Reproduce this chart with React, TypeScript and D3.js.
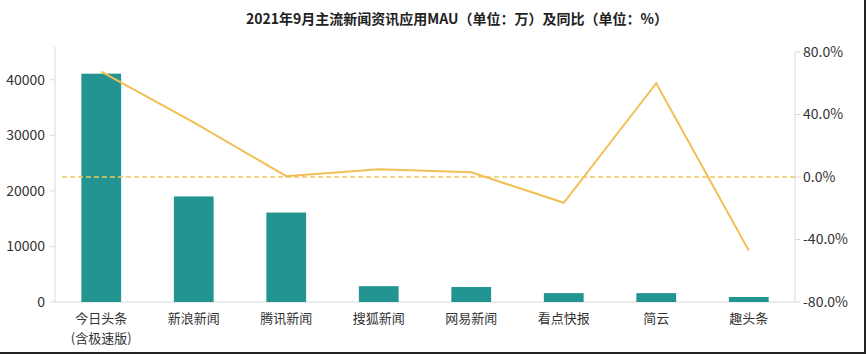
import React, { useEffect, useRef } from 'react';
import * as d3 from 'd3';

const categories = ['今日头条\n(含极速版)', '新浪新闻', '腾讯新闻', '搜狐新闻', '网易新闻', '看点快报', '简云', '趣头条'];
const mau = [41100, 19000, 16100, 2850, 2700, 1600, 1600, 900];
const yoy = [67.5, 35, 0.5, 5, 3, -16.5, 60, -47];
const leftTicks = [0, 10000, 20000, 30000, 40000];
const rightTicks = [-80, -40, 0, 40, 80];

const App = () => {
  const ref = useRef<SVGSVGElement>(null);

  useEffect(() => {
    const svg = d3.select(ref.current);
    svg.selectAll('*').remove();
    const width = 866;
    const height = 354;
    const font = '"Noto Sans CJK SC", "Noto Sans", sans-serif';
    const left = 55;
    const right = 795;
    const top = 52;
    const bottom = 302;

    svg.append('rect').attr('width', width).attr('height', height).attr('fill', '#fff');

    // title
    svg.append('text')
      .attr('x', 457)
      .attr('y', 24)
      .attr('text-anchor', 'middle')
      .attr('font-family', font)
      .attr('font-size', 14)
      .attr('font-weight', 'bold')
      .attr('fill', '#222')
      .text('2021年9月主流新闻资讯应用MAU（单位：万）及同比（单位：%）');

    const x = d3.scaleBand().domain(categories).range([left, right]).paddingInner(0.57).paddingOuter(0.285);
    const y = d3.scaleLinear().domain([0, 45000]).range([bottom, top]);
    const y2 = d3.scaleLinear().domain([-80, 80]).range([bottom, top]);

    // axes lines
    const axisColor = '#d9d9d9';
    svg.append('line').attr('x1', left).attr('x2', left).attr('y1', 47).attr('y2', bottom).attr('stroke', axisColor);
    svg.append('line').attr('x1', right).attr('x2', right).attr('y1', top).attr('y2', bottom).attr('stroke', axisColor);
    svg.append('line').attr('x1', left).attr('x2', right).attr('y1', bottom).attr('y2', bottom).attr('stroke', axisColor);

    const gl = svg.append('g');
    leftTicks.forEach(t => {
      gl.append('line').attr('x1', left - 5).attr('x2', left).attr('y1', y(t)).attr('y2', y(t)).attr('stroke', axisColor);
      gl.append('text')
        .attr('x', 45)
        .attr('y', y(t))
        .attr('dy', '0.35em')
        .attr('text-anchor', 'end')
        .attr('font-family', font)
        .attr('font-size', 14)
        .attr('fill', '#333')
        .text(t);
    });

    const gr = svg.append('g');
    rightTicks.forEach(t => {
      gr.append('line').attr('x1', right).attr('x2', right + 5).attr('y1', y2(t)).attr('y2', y2(t)).attr('stroke', axisColor);
      gr.append('text')
        .attr('x', 803)
        .attr('y', y2(t))
        .attr('dy', '0.35em')
        .attr('font-family', font)
        .attr('font-size', 14)
        .attr('fill', '#333')
        .text(`${t.toFixed(1)}%`);
    });

    // bars
    svg.selectAll('.bar')
      .data(mau)
      .enter().append('rect')
      .attr('class', 'bar')
      .attr('x', (d, i) => x(categories[i])!)
      .attr('y', d => y(d))
      .attr('width', x.bandwidth())
      .attr('height', d => bottom - y(d))
      .attr('fill', '#229592');

    // zero dashed line
    svg.append('line')
      .attr('x1', 62)
      .attr('x2', right)
      .attr('y1', y2(0))
      .attr('y2', y2(0))
      .attr('stroke', '#f0c75e')
      .attr('stroke-width', 1.5)
      .attr('stroke-dasharray', '5,3');

    // yoy line
    const line = d3.line<number>()
      .x((d, i) => x(categories[i])! + x.bandwidth() / 2)
      .y(d => y2(d));

    svg.append('path')
      .datum(yoy)
      .attr('fill', 'none')
      .attr('stroke', '#f2bf55')
      .attr('stroke-width', 2)
      .attr('d', line);

    // x labels (multi-line via tspans)
    categories.forEach(c => {
      const cx = x(c)! + x.bandwidth() / 2;
      const txt = svg.append('text')
        .attr('y', 323)
        .attr('text-anchor', 'middle')
        .attr('font-family', font)
        .attr('font-size', 13)
        .attr('fill', '#333');
      c.split('\n').forEach((s, j) => {
        txt.append('tspan')
          .attr('x', cx)
          .attr('dy', j === 0 ? 0 : 20)
          .text(s);
      });
    });

    // frame edges
    svg.append('line').attr('x1', 0).attr('x2', width).attr('y1', 353).attr('y2', 353).attr('stroke', '#222').attr('stroke-width', 2);
    svg.append('line').attr('x1', 865).attr('x2', 865).attr('y1', 0).attr('y2', height).attr('stroke', '#222').attr('stroke-width', 2);
  }, []);

  return (
    <svg ref={ref} width={866} height={354} style={{ position: 'absolute', left: 0, top: 0 }}></svg>
  );
};

export default App;
